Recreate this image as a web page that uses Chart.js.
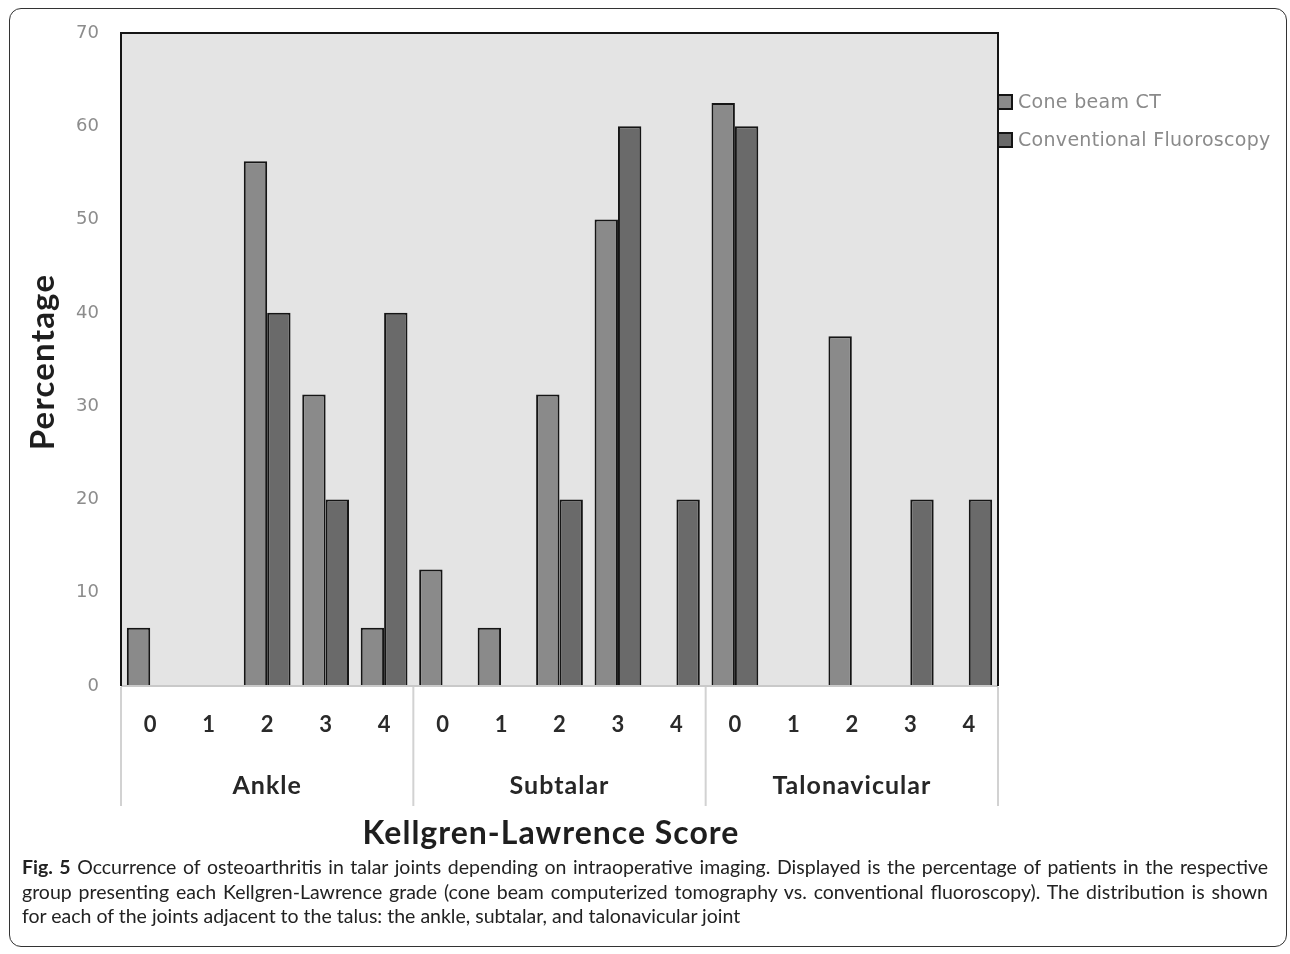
<!DOCTYPE html>
<html>
<head>
<meta charset="utf-8">
<script src="https://cdn.jsdelivr.net/npm/chart.js@4.4.1/dist/chart.umd.min.js"></script>
<style>
  html, body { margin: 0; padding: 0; background: #fff; }
  body { width: 1290px; height: 954px; position: relative; overflow: hidden; }
  #frame { position: absolute; left: 9px; top: 8px; width: 1278px; height: 939px;
           border: 1.5px solid #333; border-radius: 12px; box-sizing: border-box; }
  #wrap { position: absolute; left: 0; top: 0; width: 1290px; height: 860px; }
  #caption { position: absolute; left: 22px; top: 855px; width: 1246px;
             font-family: Lato, sans-serif; font-size: 19.5px; line-height: 24.5px; color: #222; }
  #caption div { text-align: justify; text-align-last: justify; white-space: nowrap; }
  #caption div.last { text-align-last: left; }
</style>
</head>
<body>
<div id="frame"></div>
<div id="wrap"><canvas id="c" width="1290" height="860"></canvas></div>
<div id="caption">
  <div><b>Fig. 5</b> Occurrence of osteoarthritis in talar joints depending on intraoperative imaging. Displayed is the percentage of patients in the respective</div>
  <div>group presenting each Kellgren-Lawrence grade (cone beam computerized tomography vs. conventional fluoroscopy). The distribution is shown</div>
  <div class="last">for each of the joints adjacent to the talus: the ankle, subtalar, and talonavicular joint</div>
</div>
<script>
// KL grades per joint, joints as the second label row
const GRADES = ['0', '1', '2', '3', '4'];
const JOINTS = ['Ankle', 'Subtalar', 'Talonavicular'];
const LABELS = JOINTS.flatMap(() => GRADES);

// percentages: ankle 0-4, subtalar 0-4, talonavicular 0-4
const CBCT   = [6.25, 0, 56.25, 31.25, 6.25,   12.5, 6.25, 31.25, 50, 0,   62.5, 0, 37.5, 0, 0];
const FLUORO = [0, 0, 40, 20, 40,              0, 0, 20, 60, 20,          60, 0, 0, 20, 20];

const Y_TICKS = [0, 10, 20, 30, 40, 50, 60, 70];

const COL_CBCT = '#8a8a8a';
const COL_FLUORO = '#6a6a6a';
const EDGE = '#151515';

const frameAndExtras = {
  id: 'frameAndExtras',
  beforeDatasetsDraw(chart) {
    const { ctx, chartArea: a } = chart;
    ctx.save();
    ctx.fillStyle = '#e4e4e4';
    ctx.fillRect(a.left, a.top, a.right - a.left, a.bottom - a.top);
    ctx.restore();
  },
  afterDraw(chart) {
    const { ctx, chartArea: a } = chart;
    const x = chart.scales.x;
    ctx.save();

    // plot border: dark top/left/right, light bottom
    ctx.lineWidth = 2;
    ctx.strokeStyle = '#c9c9c9';
    ctx.beginPath(); ctx.moveTo(a.left, a.bottom); ctx.lineTo(a.right, a.bottom); ctx.stroke();
    ctx.strokeStyle = EDGE;
    ctx.beginPath();
    ctx.moveTo(a.left, a.bottom); ctx.lineTo(a.left, a.top);
    ctx.lineTo(a.right, a.top); ctx.lineTo(a.right, a.bottom);
    ctx.stroke();

    // group separators and joint labels
    const step = x.getPixelForValue(1) - x.getPixelForValue(0);
    ctx.strokeStyle = '#d2d2d2';
    ctx.lineWidth = 2;
    JOINTS.forEach((name, g) => {
      const i0 = g * GRADES.length, i1 = i0 + GRADES.length - 1;
      const l = x.getPixelForValue(i0) - step / 2;
      const r = x.getPixelForValue(i1) + step / 2;
      ctx.beginPath(); ctx.moveTo(l, a.bottom + 1); ctx.lineTo(l, 806); ctx.stroke();
      if (g === JOINTS.length - 1) { ctx.beginPath(); ctx.moveTo(r, a.bottom + 1); ctx.lineTo(r, 806); ctx.stroke(); }
      ctx.fillStyle = '#262626';
      ctx.font = 'bold 25px Lato, sans-serif';
      ctx.letterSpacing = '1px';
      ctx.textAlign = 'center';
      ctx.textBaseline = 'middle';
      ctx.fillText(name, (l + r) / 2, 786);
    });

    // axis titles
    ctx.fillStyle = '#1e1e1e';
    ctx.font = 'bold 32px Lato, sans-serif';
    ctx.letterSpacing = '1px';
    ctx.fillText('Kellgren-Lawrence Score', 551, 834);
    ctx.save();
    ctx.translate(43, 362);
    ctx.rotate(-Math.PI / 2);
    ctx.font = 'bold 33px Lato, sans-serif';
    ctx.letterSpacing = '1.2px';
    ctx.fillText('Percentage', 0, 0);
    ctx.restore();

    // legend
    const ds = chart.data.datasets;
    ds.forEach((d, i) => {
      const y = 102 + i * 38;
      ctx.fillStyle = d.backgroundColor;
      ctx.fillRect(998, y - 7, 14, 14);
      ctx.strokeStyle = EDGE;
      ctx.lineWidth = 2;
      ctx.strokeRect(998, y - 7, 14, 14);
      ctx.fillStyle = '#8a8a8a';
      ctx.font = '19px "DejaVu Sans", sans-serif';
      ctx.letterSpacing = '0.3px';
      ctx.textAlign = 'left';
      ctx.fillText(d.label, 1018, y + 1);
    });
    ctx.restore();
  }
};

const zeroless = c => (c.raw === 0 ? 0 : 2);

new Chart(document.getElementById('c'), {
  type: 'bar',
  data: {
    labels: LABELS,
    datasets: [
      { label: 'Cone beam CT', data: CBCT, backgroundColor: COL_CBCT, borderColor: EDGE, borderWidth: zeroless, borderSkipped: 'bottom' },
      { label: 'Conventional Fluoroscopy', data: FLUORO, backgroundColor: COL_FLUORO, borderColor: EDGE, borderWidth: zeroless, borderSkipped: 'bottom' }
    ]
  },
  options: {
    responsive: false,
    animation: false,
    devicePixelRatio: 1,
    layout: { padding: { left: 20, right: 292, top: 33, bottom: 0 } },
    datasets: { bar: { categoryPercentage: 0.8, barPercentage: 1 } },
    plugins: { legend: { display: false }, tooltip: { enabled: false } },
    scales: {
      x: {
        grid: { display: false, drawTicks: false },
        border: { display: false },
        ticks: { color: '#2a2a2a', font: { family: 'Lato, sans-serif', size: 22, weight: 'bold' }, padding: 26, maxRotation: 0, autoSkip: false },
        afterFit: s => { s.height = 860 - 686; }
      },
      y: {
        min: 0, max: 70,
        afterBuildTicks: s => { s.ticks = Y_TICKS.map(v => ({ value: v })); },
        grid: { display: false, drawTicks: false },
        border: { display: false },
        ticks: { color: '#8c8c8c', font: { family: '"DejaVu Sans", sans-serif', size: 18 }, padding: 22 },
        afterFit: s => { s.width = 101; }
      }
    }
  },
  plugins: [frameAndExtras]
});
</script>
</body>
</html>
